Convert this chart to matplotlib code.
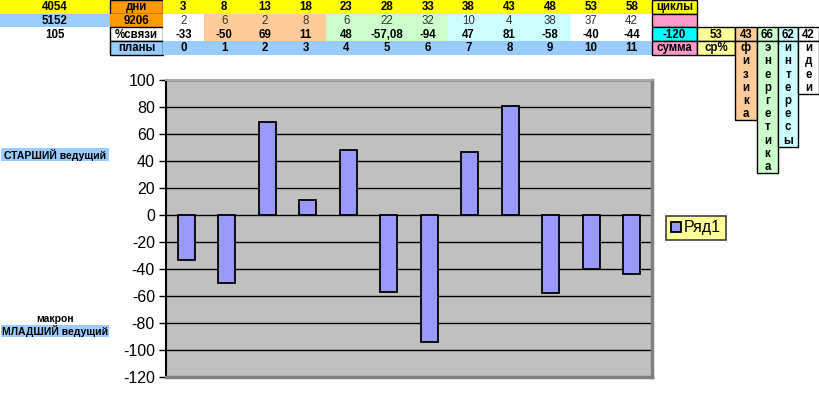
import numpy as np
import matplotlib.pyplot as plt
from matplotlib.patches import Rectangle

plt.rcParams['font.family'] = ['Liberation Sans', 'DejaVu Sans']
plt.rcParams['axes.unicode_minus'] = False

# данные таблицы
days = [3, 8, 13, 18, 23, 28, 33, 38, 43, 48, 53, 58]
counts = [2, 6, 2, 8, 6, 22, 32, 10, 4, 38, 37, 42]
links = [-33, -50, 69, 11, 48, -57.08, -94, 47, 81, -58, -40, -44]
link_labels = ['-33', '-50', '69', '11', '48', '-57,08', '-94', '47', '81', '-58', '-40', '-44']
plans = list(range(12))
head_vals = [4054, 5152, 105]
days_total = 9206
links_sum = -120
links_avg = 53
groups = ['физика', 'энергетика', 'интересы', 'идеи']
group_vals = [43, 66, 62, 42]
series_name = 'Ряд1'

# цвета колонок (по группам)
PEACH, GREEN, CYAN, WHITE = '#FFCC99', '#CCFFCC', '#CCFFFF', '#FFFFFF'
col_colors = [WHITE, PEACH, PEACH, PEACH, GREEN, GREEN, GREEN, CYAN, CYAN, CYAN, WHITE, WHITE]
group_colors = [PEACH, GREEN, CYAN, WHITE]

fig = plt.figure(figsize=(8.19, 4.04), dpi=100)

# слой таблицы в пиксельных координатах
tab = fig.add_axes([0, 0, 1, 1], zorder=0)
tab.set_xlim(0, 819)
tab.set_ylim(404, 0)
tab.axis('off')


def cell(x0, x1, y0, y1, fc=None, text=None, border=False, bold=True, color='black', size=8.3):
    if fc is not None:
        tab.add_patch(Rectangle((x0, y0), x1 - x0, y1 - y0, facecolor=fc, edgecolor='none'))
    if border:
        tab.add_patch(Rectangle((x0, y0), x1 - x0, y1 - y0, facecolor='none',
                                edgecolor='black', lw=1.0))
    if text is not None:
        tab.text((x0 + x1) / 2, (y0 + y1) / 2 + 0.5, text, ha='center', va='center',
                 fontsize=size, fontweight='bold' if bold else 'normal', color=color)


rows = [0, 13.7, 27.4, 41.1, 54.8]
cw = 40.75
cx = [163 + cw * i for i in range(13)]

# строка 1
cell(0, 110, rows[0], rows[1], '#FFFF00', str(head_vals[0]))
cell(110, 163, rows[0], rows[1], '#FF9900', 'дни', border=True)
for i, d in enumerate(days):
    cell(cx[i], cx[i + 1], rows[0], rows[1], '#FFFF00', str(d))
cell(652, 697, rows[0], rows[1], '#FFFF00', 'циклы', border=True)

# строка 2
cell(0, 110, rows[1], rows[2], '#99CCFF', str(head_vals[1]))
cell(110, 163, rows[1], rows[2], '#FF9900', str(days_total))
for i, c in enumerate(counts):
    cell(cx[i], cx[i + 1], rows[1], rows[2], col_colors[i], str(c), bold=False, color='#333333')
cell(652, 697, rows[1], rows[2], '#FF99CC', border=True)

# строка 3
cell(0, 110, rows[2], rows[3], None, str(head_vals[2]))
cell(110, 163, rows[2], rows[3], WHITE, '%связи', border=True)
for i, t in enumerate(link_labels):
    cell(cx[i], cx[i + 1], rows[2], rows[3], col_colors[i], t)
cell(652, 697, rows[2], rows[3], '#00FFFF', str(links_sum), border=True)
cell(697, 735, rows[2], rows[3], '#FFFF99', str(links_avg), border=True)
gx = [735, 757, 778, 798, 819]
for j, v in enumerate(group_vals):
    cell(gx[j], gx[j + 1], rows[2], rows[3], group_colors[j], str(v), border=True)

# строка 4
cell(110, 163, rows[3], rows[4], '#99CCFF', 'планы', border=True)
for i, p in enumerate(plans):
    cell(cx[i], cx[i + 1], rows[3], rows[4], '#99CCFF', str(p))
cell(652, 697, rows[3], rows[4], '#FF99CC', 'сумма', border=True)
cell(697, 735, rows[3], rows[4], '#FFFF99', 'ср%', border=True)

# вертикальные подписи групп
lh = 13.2
for j, name in enumerate(groups):
    y_end = rows[3] + lh * len(name)
    cell(gx[j], gx[j + 1], rows[3], y_end, group_colors[j], border=True)
    for k, ch in enumerate(name):
        cell(gx[j], gx[j + 1], rows[3] + lh * k, rows[3] + lh * (k + 1), None, ch)

# подписи слева
cell(1, 109, 148, 161, '#99CCFF', 'СТАРШИЙ ведущий', size=7.5)
cell(1, 109, 312, 325, None, 'макрон', size=7.5)
cell(1, 109, 325, 337, '#99CCFF', 'МЛАДШИЙ ведущий', size=7.5)

# диаграмма
ax = fig.add_axes([166 / 819, 1 - 377 / 404, 486 / 819, 297 / 404], zorder=1)
x = np.arange(len(links))
ax.set_facecolor('#C0C0C0')
ax.bar(x, links, width=0.41, color='#9999FF', edgecolor='black', lw=1.3,
       label=series_name, zorder=3)
ax.set_xlim(-0.5, len(links) - 0.5)
ax.set_ylim(-120, 100)
ax.set_yticks(np.arange(-120, 101, 20))
ax.set_xticks([])
ax.yaxis.grid(True, color='black', lw=1.0, zorder=1)
ax.set_axisbelow(True)
ax.tick_params(axis='y', labelsize=11.5, length=5, width=1, direction='out', pad=3)
ax.spines['left'].set_color('black')
ax.spines['left'].set_linewidth(1.5)
ax.spines['top'].set_color('#A8A8A8')
ax.spines['top'].set_linewidth(1.5)
ax.spines['right'].set_color('#808080')
ax.spines['right'].set_linewidth(2.5)
ax.spines['bottom'].set_color('#808080')
ax.spines['bottom'].set_linewidth(2.5)

leg = fig.legend(loc='center', bbox_to_anchor=(696 / 819, 1 - 228 / 404), fontsize=11.5,
                 frameon=True, fancybox=False, facecolor='#FFFF99', edgecolor='#404040',
                 handlelength=0.6, handleheight=0.6, handletextpad=0.2,
                 borderpad=0.3, borderaxespad=0)
leg.get_frame().set_linewidth(1.2)
leg.get_frame().set_alpha(1)

fig.savefig('out.png', dpi=100)
